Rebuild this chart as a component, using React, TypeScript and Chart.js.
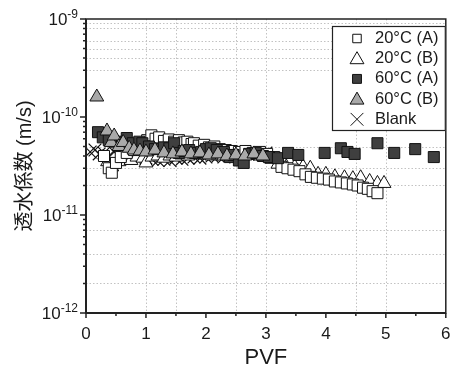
import React, { useEffect, useRef } from "react";
import { Chart, registerables } from "chart.js";

Chart.register(...registerables);

const FONT = "'Liberation Sans', Arial, 'Noto Sans CJK JP', sans-serif";

const seriesLabels = ["20°C (A)", "20°C (B)", "60°C (A)", "60°C (B)", "Blank"];

// 20°C (A) white squares
const x20A = [0.30, 0.38, 0.43, 0.50, 0.58, 0.68, 0.80, 0.92, 1.02, 1.09, 1.16, 1.22, 1.30, 1.38, 1.47, 1.55, 1.63, 1.69, 1.76, 1.80, 1.88, 1.97, 2.05, 2.14, 2.23, 2.33, 2.43, 2.55, 2.66, 2.78, 2.90, 3.02, 3.14, 3.26, 3.36, 3.46, 3.56, 3.66, 3.75, 3.85, 3.95, 4.05, 4.15, 4.25, 4.35, 4.45, 4.53, 4.62, 4.70, 4.78, 4.86];
const y20A = [4.0e-11, 3.0e-11, 2.7e-11, 3.4e-11, 3.9e-11, 4.3e-11, 4.6e-11, 5.2e-11, 5.8e-11, 6.5e-11, 6.0e-11, 6.2e-11, 5.7e-11, 5.9e-11, 5.6e-11, 5.8e-11, 5.5e-11, 5.6e-11, 5.3e-11, 5.4e-11, 5.1e-11, 5.2e-11, 4.9e-11, 5.0e-11, 4.7e-11, 4.6e-11, 4.5e-11, 4.4e-11, 4.5e-11, 4.3e-11, 4.4e-11, 4.2e-11, 3.9e-11, 3.1e-11, 3.0e-11, 2.9e-11, 2.8e-11, 2.6e-11, 2.45e-11, 2.4e-11, 2.35e-11, 2.3e-11, 2.2e-11, 2.15e-11, 2.1e-11, 2.05e-11, 2.0e-11, 1.9e-11, 1.85e-11, 1.75e-11, 1.67e-11];

// 20°C (B) white triangles
const x20B = [0.36, 0.43, 0.55, 0.65, 0.75, 0.85, 0.95, 1.00, 1.10, 1.20, 1.30, 1.40, 1.50, 1.60, 1.70, 1.80, 1.90, 2.00, 2.10, 2.20, 2.30, 2.40, 2.50, 2.60, 2.70, 2.80, 2.90, 3.00, 3.10, 3.20, 3.34, 3.48, 3.62, 3.74, 3.87, 4.00, 4.15, 4.31, 4.45, 4.58, 4.73, 4.86, 4.97];
const y20B = [3.5e-11, 3.1e-11, 3.5e-11, 3.8e-11, 3.6e-11, 3.9e-11, 3.8e-11, 3.4e-11, 3.9e-11, 4.0e-11, 3.8e-11, 4.0e-11, 3.9e-11, 4.1e-11, 4.0e-11, 4.2e-11, 4.1e-11, 4.2e-11, 4.0e-11, 4.1e-11, 4.0e-11, 4.2e-11, 4.1e-11, 4.0e-11, 4.2e-11, 4.1e-11, 4.0e-11, 3.9e-11, 3.7e-11, 3.3e-11, 3.1e-11, 3.1e-11, 3.1e-11, 3.0e-11, 2.6e-11, 2.6e-11, 2.45e-11, 2.4e-11, 2.35e-11, 2.4e-11, 2.2e-11, 2.1e-11, 2.1e-11];

// 60°C (A) dark squares
const x60A = [0.20, 0.28, 0.38, 0.50, 0.60, 0.68, 0.78, 0.89, 0.94, 1.05, 1.15, 1.30, 1.39, 1.47, 1.55, 1.63, 1.72, 1.82, 1.92, 2.00, 2.08, 2.18, 2.30, 2.40, 2.46, 2.55, 2.63, 2.72, 2.83, 2.95, 3.05, 3.20, 3.37, 3.54, 3.98, 4.25, 4.36, 4.48, 4.86, 5.14, 5.49, 5.80];
const y60A = [7.0e-11, 6.2e-11, 5.8e-11, 5.6e-11, 5.5e-11, 6.1e-11, 5.4e-11, 5.6e-11, 5.4e-11, 5.0e-11, 4.7e-11, 4.9e-11, 4.8e-11, 5.4e-11, 4.3e-11, 4.5e-11, 4.6e-11, 4.3e-11, 4.4e-11, 4.7e-11, 4.8e-11, 4.6e-11, 4.4e-11, 3.9e-11, 4.1e-11, 3.6e-11, 3.4e-11, 4.2e-11, 4.3e-11, 4.0e-11, 3.9e-11, 3.8e-11, 4.3e-11, 4.1e-11, 4.3e-11, 4.8e-11, 4.4e-11, 4.2e-11, 5.4e-11, 4.3e-11, 4.7e-11, 3.9e-11];

// 60°C (B) gray triangles
const x60B = [0.18, 0.35, 0.42, 0.47, 0.55, 0.62, 0.72, 0.80, 0.90, 1.00, 1.15, 1.30, 1.45, 1.60, 1.75, 1.90, 2.05, 2.20, 2.35, 2.50, 2.65, 2.80, 2.95];
const y60B = [1.6e-10, 7.2e-11, 5.5e-11, 6.4e-11, 5.0e-11, 5.5e-11, 4.8e-11, 4.6e-11, 4.5e-11, 4.4e-11, 4.6e-11, 4.3e-11, 4.2e-11, 4.4e-11, 4.2e-11, 4.3e-11, 4.1e-11, 4.2e-11, 4.0e-11, 4.1e-11, 4.0e-11, 4.2e-11, 4.0e-11];

// Blank crosses
const xBlank = [0.07, 0.15, 0.22, 0.30, 0.38, 0.47, 0.55, 0.63, 0.72, 0.80, 0.90, 1.00, 1.10, 1.20, 1.30, 1.40, 1.50, 1.60, 1.70, 1.80, 1.90, 2.00, 2.10, 2.20, 2.30, 2.40, 2.50, 2.60, 2.70, 2.80, 2.90, 3.00];
const yBlank = [4.4e-11, 4.6e-11, 4.2e-11, 4.3e-11, 4.0e-11, 4.4e-11, 4.1e-11, 4.0e-11, 3.9e-11, 4.0e-11, 3.9e-11, 3.8e-11, 3.7e-11, 3.6e-11, 3.7e-11, 3.6e-11, 3.8e-11, 3.7e-11, 3.8e-11, 3.9e-11, 3.8e-11, 3.9e-11, 4.0e-11, 4.0e-11, 3.9e-11, 4.1e-11, 4.0e-11, 4.1e-11, 4.2e-11, 4.1e-11, 4.2e-11, 4.3e-11];

const xTickValues = [0, 1, 2, 3, 4, 5, 6];
const xMinorTickValues = [0.5, 1.5, 2.5, 3.5, 4.5, 5.5];
const yTickExponents = [-12, -11, -10, -9];
const xGridValues = [1, 1.5, 2.5, 3, 4.5, 5];
const yGridValues = [9e-10, 8e-10, 6e-10, 5e-10, 4e-10, 3e-10, 5e-11, 3e-11, 2e-11, 7e-12, 4e-12, 2e-12];

const styles = [
  { pointStyle: "rect", fill: "#ffffff", r: 7.8, lr: 6 },
  { pointStyle: "triangle", fill: "#ffffff", r: 8, lr: 8 },
  { pointStyle: "rect", fill: "#3f3f3f", r: 7.8, lr: 6.3 },
  { pointStyle: "triangle", fill: "#a9a9a9", r: 8, lr: 8 },
  { pointStyle: "crossRot", fill: "#111111", r: 9, lr: 9 },
];

function pts(xs: number[], ys: number[]) {
  return xs.map((x, i) => ({ x, y: ys[i] }));
}

function drawMarker(ctx: CanvasRenderingContext2D, style: string, x: number, y: number, r: number) {
  ctx.beginPath();
  if (style === "rect") {
    const s = r * Math.SQRT1_2;
    ctx.rect(x - s, y - s, 2 * s, 2 * s);
    ctx.fill();
    ctx.stroke();
  } else if (style === "triangle") {
    ctx.moveTo(x, y - r);
    ctx.lineTo(x + r * 0.866, y + r * 0.5);
    ctx.lineTo(x - r * 0.866, y + r * 0.5);
    ctx.closePath();
    ctx.fill();
    ctx.stroke();
  } else {
    const o = r * Math.SQRT1_2;
    ctx.moveTo(x - o, y - o);
    ctx.lineTo(x + o, y + o);
    ctx.moveTo(x - o, y + o);
    ctx.lineTo(x + o, y - o);
    ctx.stroke();
  }
}

const decorPlugin = {
  id: "decor",
  beforeDatasetsDraw(chart: any) {
    const { ctx, chartArea: a, scales } = chart;
    const xs = scales.x;
    const ys = scales.y;
    ctx.save();
    ctx.strokeStyle = "#c2c2c2";
    ctx.lineWidth = 1;
    ctx.setLineDash([1.5, 2]);
    for (const v of xGridValues) {
      const px = Math.round(xs.getPixelForValue(v)) + 0.5;
      ctx.beginPath();
      ctx.moveTo(px, a.top);
      ctx.lineTo(px, a.bottom);
      ctx.stroke();
    }
    for (const v of yGridValues) {
      const py = Math.round(ys.getPixelForValue(v)) + 0.5;
      ctx.beginPath();
      ctx.moveTo(a.left, py);
      ctx.lineTo(a.right, py);
      ctx.stroke();
    }
    ctx.restore();
  },
  afterDatasetsDraw(chart: any) {
    const { ctx, chartArea: a, scales } = chart;
    const xs = scales.x;
    const ys = scales.y;
    ctx.save();
    ctx.setLineDash([]);
    ctx.strokeStyle = "#222";
    ctx.lineWidth = 1.5;
    ctx.strokeRect(a.left, a.top, a.right - a.left, a.bottom - a.top);
    ctx.lineWidth = 2;
    ctx.beginPath();
    ctx.moveTo(a.left, a.top);
    ctx.lineTo(a.left, a.bottom);
    ctx.moveTo(a.left, a.bottom);
    ctx.lineTo(a.right, a.bottom);
    ctx.stroke();

    // y ticks
    ctx.lineWidth = 1.5;
    for (let i = 0; i < yTickExponents.length; i++) {
      const e = yTickExponents[i];
      const py = ys.getPixelForValue(Math.pow(10, e));
      ctx.beginPath();
      ctx.moveTo(a.left - 6, py);
      ctx.lineTo(a.left, py);
      ctx.stroke();
      if (i < yTickExponents.length - 1) {
        for (let m = 2; m <= 9; m++) {
          const pm = ys.getPixelForValue(m * Math.pow(10, e));
          ctx.beginPath();
          ctx.moveTo(a.left - 3, pm);
          ctx.lineTo(a.left, pm);
          ctx.stroke();
        }
      }
    }
    // x ticks
    for (const v of xTickValues) {
      const px = xs.getPixelForValue(v);
      ctx.beginPath();
      ctx.moveTo(px, a.bottom);
      ctx.lineTo(px, a.bottom + 5);
      ctx.stroke();
    }
    for (const v of xMinorTickValues) {
      const px = xs.getPixelForValue(v);
      ctx.beginPath();
      ctx.moveTo(px, a.bottom);
      ctx.lineTo(px, a.bottom + 3);
      ctx.stroke();
    }

    // y tick labels with superscript exponents
    ctx.fillStyle = "#1a1a1a";
    ctx.textAlign = "right";
    for (const e of yTickExponents) {
      const py = ys.getPixelForValue(Math.pow(10, e));
      const rightX = a.left - 8;
      ctx.font = `12px ${FONT}`;
      ctx.textBaseline = "alphabetic";
      const expText = String(e);
      const ew = ctx.measureText(expText).width;
      ctx.fillText(expText, rightX, py - 1);
      ctx.font = `17px ${FONT}`;
      ctx.textBaseline = "middle";
      ctx.fillText("10", rightX - ew, py + 1);
    }

    // legend
    const lx0 = 332;
    const lx1 = a.right;
    const ly0 = 26;
    const ly1 = 131;
    ctx.fillStyle = "#ffffff";
    ctx.fillRect(lx0, ly0, lx1 - lx0, ly1 - ly0);
    ctx.strokeStyle = "#222";
    ctx.lineWidth = 1.2;
    ctx.strokeRect(lx0 + 0.5, ly0 + 0.5, lx1 - lx0 - 1, ly1 - ly0 - 1);
    const ds = chart.data.datasets;
    for (let i = 0; i < ds.length; i++) {
      const yRow = 38.5 + i * 20.2;
      const st = styles[i];
      ctx.fillStyle = st.fill;
      ctx.strokeStyle = "#111";
      ctx.lineWidth = 1;
      drawMarker(ctx, st.pointStyle, 357, yRow + (st.pointStyle === "triangle" ? 1 : 0), st.lr);
      ctx.fillStyle = "#1a1a1a";
      ctx.textAlign = "left";
      ctx.textBaseline = "middle";
      ctx.font = `16.5px ${FONT}`;
      ctx.fillText(ds[i].label, 375, yRow);
    }
    ctx.restore();
  },
};

export default function App() {
  const ref = useRef<HTMLCanvasElement | null>(null);
  useEffect(() => {
    if (!ref.current) return;
    const seriesData = [pts(x20A, y20A), pts(x20B, y20B), pts(x60A, y60A), pts(x60B, y60B), pts(xBlank, yBlank)];
    const orders = [2, 3, 1, 0, 4];
    const chart = new Chart(ref.current, {
      type: "scatter",
      data: {
        datasets: seriesData.map((d, i) => ({
          label: seriesLabels[i],
          data: d,
          pointStyle: styles[i].pointStyle as any,
          pointRadius: styles[i].r,
          pointHoverRadius: styles[i].r,
          backgroundColor: styles[i].fill,
          borderColor: "#111111",
          borderWidth: 1,
          pointBorderWidth: i === 4 ? 1.2 : 1,
          order: orders[i],
        })),
      },
      options: {
        animation: false,
        responsive: false,
        maintainAspectRatio: false,
        layout: { padding: { top: 19, right: 6, left: 0, bottom: 0 } },
        plugins: { legend: { display: false }, tooltip: { enabled: false } },
        scales: {
          x: {
            type: "linear",
            min: 0,
            max: 6,
            afterBuildTicks: (s: any) => {
              s.ticks = xTickValues.map((v) => ({ value: v }));
            },
            ticks: {
              font: { family: FONT, size: 17 },
              color: "#1a1a1a",
              padding: 3,
              maxRotation: 0,
              autoSkip: false,
              callback: (v: any) => String(v),
            },
            grid: { display: false },
            border: { display: false },
            title: {
              display: true,
              text: "PVF",
              font: { family: FONT, size: 22 },
              color: "#1a1a1a",
              padding: { top: 0, bottom: 0 },
            },
            afterFit: (s: any) => {
              s.height = 58;
            },
          },
          y: {
            type: "logarithmic",
            min: 1e-12,
            max: 1e-9,
            ticks: { display: false },
            grid: { display: false },
            border: { display: false },
            title: {
              display: true,
              text: "透水係数 (m/s)",
              font: { family: FONT, size: 20 },
              color: "#1a1a1a",
              padding: { top: 13, bottom: 0 },
            },
            afterFit: (s: any) => {
              s.width = 86;
            },
          },
        },
      } as any,
      plugins: [decorPlugin],
    });
    return () => chart.destroy();
  }, []);
  return (
    <div style={{ position: "fixed", left: 0, top: 0, width: 456, height: 371, background: "#fff" }}>
      <canvas ref={ref} width={456} height={371} style={{ display: "block" }} />
    </div>
  );
}
